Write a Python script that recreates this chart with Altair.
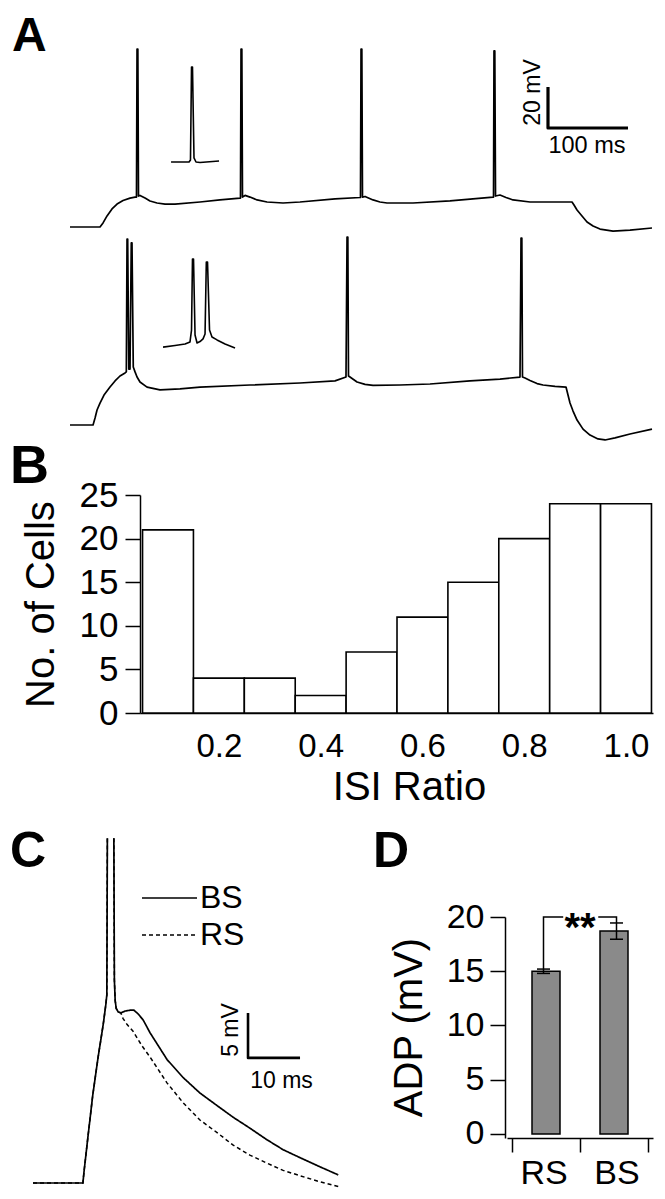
import altair as alt
import pandas as pd

FONT = "Liberation Sans"

# ---------------- Panel A : membrane potential traces (time in ms, Vm in mV)
rs_t = [0, 37.5, 41.3, 46.3, 52.5, 58.8, 66.3, 75, 81.3, 83.1, 83.8, 84.8, 85.6, 87.5, 93.8, 100,
        108.8, 118.8, 131.3, 162.5, 187.5, 212.5, 213.1, 213.8, 214.8, 215.6, 218.8, 225, 233.8,
        246.3, 266.3, 287.5, 331.3, 362.5, 363.1, 363.8, 364.8, 365.6, 368.8, 378.8, 387.5, 396.3,
        428.8, 475, 528.8, 529.4, 530, 531, 531.9, 537.5, 545, 553.8, 575, 627.5, 630, 633.8, 640,
        646.3, 653.8, 662.5, 678.8, 700, 727.5]
rs_v = [-70, -70, -68.0, -64.6, -61.2, -58.8, -57.1, -55.9, -55.4, -55.4, 16.8, 16.8, -54.9, -54.6,
        -55.9, -57.3, -58.3, -58.8, -58.8, -57.8, -56.8, -55.9, -55.9, 16.8, 16.8, -55.4, -54.6,
        -55.4, -56.8, -57.8, -58.3, -57.8, -56.3, -55.6, -55.6, 16.8, 16.8, -55.4, -55.1, -56.8,
        -57.8, -58.3, -58.3, -57.3, -55.4, -55.4, 15.9, 15.9, -54.9, -54.4, -55.6, -56.8, -57.8,
        -57.8, -59.3, -61.7, -64.6, -67.6, -69.5, -71.0, -72.0, -71.5, -70.5]
rs_inset_t = [126.3, 148.8, 150.6, 151.9, 153.1, 155.0, 157.5, 162.5, 186.3]
rs_inset_v = [-38.3, -38.3, -37.3, 8.0, 8.0, -36.3, -38.3, -38.5, -37.8]

bs_t = [0, 28.8, 31.3, 33.8, 37.5, 42.5, 50, 56.3, 62.5, 68.8, 70.4, 71.3, 72.1, 73.5, 75, 76.6,
        77.5, 79.1, 81.3, 83.8, 87.5, 96.3, 112.5, 137.5, 162.5, 225, 287.5, 331.3, 345, 346.3,
        347.3, 348.1, 350, 358.8, 368.8, 378.8, 412.5, 450, 500, 537.5, 562.5, 563.8, 564.8, 565.6,
        568.8, 575, 583.8, 591.3, 606.3, 620, 622.5, 625, 628.8, 633.8, 641.3, 650, 660, 668.8,
        681.3, 700, 727.5]
bs_v = [-70, -70, -66.6, -62.7, -59.3, -55.4, -51.5, -48.5, -46.1, -44.6, -44.1, 20.7, 20.7, -42.7,
        -42.7, 18.8, 18.8, -41.7, -44.1, -46.6, -49.0, -51.5, -52.9, -52.4, -51.5, -50.5, -49.5,
        -48.5, -46.6, 21.7, 21.7, -46.1, -46.6, -49.0, -50.2, -50.7, -50.5, -50.0, -48.5, -47.6,
        -46.6, 21.2, 21.2, -46.6, -47.1, -48.3, -49.8, -50.5, -51.2, -51.5, -55.4, -59.3, -63.2,
        -67.6, -72.0, -74.9, -76.8, -77.3, -76.3, -74.4, -72.0]
bs_inset_t = [116.3, 131.3, 143.8, 150, 151.9, 153.1, 154.4, 156.3, 158.8, 162.5, 166.3, 168.8,
              170.4, 171.9, 174.4, 177.5, 183.8, 193.8, 206.3]
bs_inset_v = [-32.0, -31.2, -30.5, -29.5, -23.7, 11.0, 11.0, -26.1, -30.0, -29.3, -28.0, -25.6,
              9.5, 9.5, -23.7, -27.1, -28.5, -30.5, -32.4]

scalebar_a_t = [597.5, 597.5, 697.5]      # 100 ms
scalebar_a_v = [-1.7, -21.7, -21.7]       # 20 mV

# ---------------- Panel B : ISI ratio histogram
isi_edges = [0.05, 0.15, 0.25, 0.35, 0.45, 0.55, 0.65, 0.75, 0.85, 0.95, 1.05]
isi_counts = [21, 4, 4, 2, 7, 11, 15, 20, 24, 24]
isi_ticks = [0.2, 0.4, 0.6, 0.8, 1.0]
cell_ticks = [0, 5, 10, 15, 20, 25]

# ---------------- Panel C : single spike with ADP
c_rise_t = [0, 9.6, 9.8, 10.6, 11.5, 12.5, 13.5, 14.0, 14.2, 14.3]
c_rise_v = [-70, -70, -68.8, -64.7, -60.2, -56.1, -52.4, -50.2, -49.1, -31.7]
c_fall_t = [15.55, 15.65, 15.8, 16.0, 16.4, 16.9]
c_fall_v = [-31.7, -47.4, -49.7, -50.6, -51.0, -51.1]
c_bs_tail_t = [17.7, 18.7, 19.4, 20.2, 21.2, 22.5, 25.8, 28.9, 32.1, 35.4, 38.5, 41.7, 45.0, 48.1,
               51.4, 54.8, 58.7]
c_bs_tail_v = [-50.9, -50.8, -50.8, -51.2, -51.9, -53.3, -56.3, -58.3, -60.0, -61.4, -62.7, -63.9,
               -65.2, -66.3, -67.2, -68.1, -69.1]
c_rs_tail_t = [17.3, 18.1, 19.2, 21.0, 22.5, 25.8, 28.9, 32.1, 35.4, 38.5, 41.7, 45.0, 48.1, 51.4,
               54.8, 58.7]
c_rs_tail_v = [-51.7, -52.4, -53.1, -54.8, -56.0, -58.9, -61.1, -63.0, -64.4, -65.8, -66.9, -67.8,
               -68.6, -69.2, -69.8, -70.4]
scalebar_c_t = [41.35, 41.35, 51.35]      # 10 ms
scalebar_c_v = [-51.1, -56.1, -56.1]      # 5 mV

# ---------------- Panel D : ADP amplitude
adp_cells = ["RS", "BS"]
adp_mean = [15.0, 18.7]
adp_sem = [0.2, 0.75]
adp_ticks = [0, 5, 10, 15, 20]
bracket_level = 20
stars = "**"

W, H = 649, 1183


# ================= helpers
def lin(domain, rng):
    return alt.Scale(domain=domain, range=rng, zero=False, nice=False)


def frame(t, v, **extra):
    df = pd.DataFrame({"t": t, "v": v})
    df["i"] = range(len(df))
    for k, val in extra.items():
        df[k] = val
    return df


def label(text, x, y, size, weight="normal", align="left", baseline="alphabetic", angle=0):
    return alt.Chart(pd.DataFrame({"s": [text]})).mark_text(
        font=FONT, fontSize=size, fontWeight=weight, align=align, baseline=baseline,
        angle=angle, color="black"
    ).encode(x=alt.value(x), y=alt.value(y), text="s:N")


A_X = lin([0, 700], [62, 622])
A_Y_TOP = lin([-70, 30], [219, 14])
A_Y_BOT = lin([-70, 30], [417, 212])
B_X = lin([0.045, 1.053], [132, 645])
B_Y = lin([0, 25], [705, 487])
C_X = lin([0, 60], [25, 337])
C_Y = lin([-70, -30], [1175, 815])
D_X = lin([0, 2], [499, 645])
D_Y = lin([-0.37, 20], [1130, 909])


def trace(df, xs, ys, width=1.7):
    return alt.Chart(df).mark_line(color="black", strokeWidth=width, strokeJoin="round").encode(
        x=alt.X("t:Q", scale=xs, axis=None),
        y=alt.Y("v:Q", scale=ys, axis=None),
        order="i:Q",
    )


layers = []

# ---- A
layers.append(trace(frame(rs_t, rs_v), A_X, A_Y_TOP))
layers.append(trace(frame(rs_inset_t, rs_inset_v), A_X, A_Y_TOP, 1.6))
layers.append(trace(frame(bs_t, bs_v), A_X, A_Y_BOT))
layers.append(trace(frame(bs_inset_t, bs_inset_v), A_X, A_Y_BOT, 1.6))
layers.append(trace(frame(scalebar_a_t, scalebar_a_v), A_X, A_Y_TOP, 3.2))
layers.append(label("20 mV", 525, 84.5, 23, align="center", baseline="middle", angle=270))
layers.append(label("100 ms", 579, 138, 23.5, align="center", baseline="middle"))

# ---- B
hist_df = pd.DataFrame({"lo": isi_edges[:-1], "hi": isi_edges[1:], "n": isi_counts})
layers.append(
    alt.Chart(hist_df).mark_rect(fill="white", stroke="black", strokeWidth=1.6).encode(
        x=alt.X("lo:Q", scale=B_X, axis=alt.Axis(
            orient="bottom", offset=705 - H, values=isi_ticks, format=".1f", ticks=False,
            tickSize=0, labelPadding=17, labelFontSize=33, labelFlush=False, labelOverlap=False,
            title="ISI Ratio", titleFontSize=40, titleX=401, titleY=74, titleAlign="center",
            titleBaseline="middle")),
        x2="hi:Q",
        y=alt.Y("n:Q", scale=B_Y, axis=alt.Axis(
            orient="left", offset=-132, values=cell_ticks, tickSize=15, labelPadding=7,
            labelFontSize=35, labelOverlap=False, title="No. of Cells", titleFontSize=40,
            titleAngle=270, titleX=-99, titleY=596, titleAlign="center", titleBaseline="middle")),
        y2=alt.datum(0),
    )
)

# ---- C
c_rows = []
for cell, tail_t, tail_v in (("RS", c_rs_tail_t, c_rs_tail_v), ("BS", c_bs_tail_t, c_bs_tail_v)):
    up = frame(c_rise_t, c_rise_v, cell=cell, seg=cell + "_up")
    down = frame(c_fall_t + tail_t, c_fall_v + tail_v, cell=cell, seg=cell + "_down")
    c_rows += [up, down]
c_df = pd.concat(c_rows, ignore_index=True)
dash_scale = alt.Scale(domain=["BS", "RS"], range=[[1, 0], [4, 3]])
for cell, w in (("RS", 1.5), ("BS", 1.7)):
    layers.append(
        alt.Chart(c_df[c_df.cell == cell]).mark_line(color="black", strokeWidth=w).encode(
            x=alt.X("t:Q", scale=C_X, axis=None),
            y=alt.Y("v:Q", scale=C_Y, axis=None),
            detail="seg:N",
            order="i:Q",
            strokeDash=alt.StrokeDash("cell:N", scale=dash_scale, legend=None),
        )
    )
layers.append(trace(frame(scalebar_c_t, scalebar_c_v), C_X, C_Y, 2.6))
layers.append(label("5 mV", 223, 1022, 23, align="center", baseline="middle", angle=270))
layers.append(label("10 ms", 273.5, 1073, 23, align="center", baseline="middle"))
# legend
for cell, yy, dash in (("BS", 890, [1, 0]), ("RS", 927, [4, 3])):
    layers.append(
        alt.Chart(pd.DataFrame({"cell": [cell]})).mark_rule(
            color="black", strokeWidth=1.5, strokeDash=dash
        ).encode(x=alt.value(134), x2=alt.value(189), y=alt.value(yy))
    )
    layers.append(label(cell, 192, yy, 32, baseline="middle"))

# ---- D
d_df = pd.DataFrame({"cell": adp_cells, "mean": adp_mean, "sem": adp_sem})
d_df["pos"] = [i + 0.5 for i in range(len(d_df))]
d_df["lo"] = d_df["mean"] - d_df["sem"]
d_df["hi"] = d_df["mean"] + d_df["sem"]
label_expr = "[" + ",".join("'%s'" % c for c in adp_cells) + "][floor(datum.value)]"

layers.append(
    alt.Chart(d_df).mark_bar(size=28, fill="#8a8a8a", stroke="black", strokeWidth=1.5).encode(
        x=alt.X("pos:Q", scale=D_X, axis=alt.Axis(
            orient="bottom", offset=1130 - H, values=[0, 1, 2], labels=False, tickSize=14,
            title=None)),
        y=alt.Y("mean:Q", scale=D_Y, axis=alt.Axis(
            orient="left", offset=-497, values=adp_ticks, tickSize=15, labelPadding=6,
            labelFontSize=34, labelOverlap=False, title="ADP (mV)", titleFontSize=40,
            titleAngle=270, titleX=-96, titleY=1019, titleAlign="center",
            titleBaseline="middle")),
        y2=alt.datum(0),
    )
)
layers.append(
    alt.Chart(d_df).mark_rule(color="black", strokeWidth=1.5).encode(
        x=alt.X("pos:Q", scale=D_X, axis=alt.Axis(
            orient="bottom", offset=1130 - H, values=[0.5, 1.5], labelExpr=label_expr,
            ticks=False, tickSize=0, domain=False, labelPadding=18, labelFontSize=34,
            labelFlush=False, labelOverlap=False, title=None)),
        y=alt.Y("lo:Q", scale=D_Y, axis=None),
        y2="hi:Q",
    )
)
layers.append(
    alt.Chart(d_df).transform_fold(["lo", "hi"], as_=["end", "val"]).mark_point(
        shape="stroke", size=169, strokeWidth=1.5, color="black", opacity=1, filled=False
    ).encode(
        x=alt.X("pos:Q", scale=D_X, axis=None),
        y=alt.Y("val:Q", scale=D_Y, axis=None),
    )
)
rs_top = adp_mean[0] + adp_sem[0]
bs_top = adp_mean[1] + adp_sem[1]
bracket = pd.DataFrame({
    "t": [0.5, 0.5, 0.77, 1.25, 1.5, 1.5],
    "v": [rs_top, bracket_level, bracket_level, bracket_level, bracket_level, bs_top],
    "seg": ["L", "L", "L", "R", "R", "R"],
})
bracket["i"] = range(len(bracket))
layers.append(
    alt.Chart(bracket).mark_line(color="black", strokeWidth=1.5).encode(
        x=alt.X("t:Q", scale=D_X, axis=None),
        y=alt.Y("v:Q", scale=D_Y, axis=None),
        detail="seg:N",
        order="i:Q",
    )
)
layers.append(
    alt.Chart(pd.DataFrame({"t": [1.0], "v": [bracket_level], "s": [stars]})).mark_text(
        font=FONT, fontSize=40, fontWeight="bold", align="center", baseline="alphabetic",
        dy=24, color="black"
    ).encode(
        x=alt.X("t:Q", scale=D_X, axis=None),
        y=alt.Y("v:Q", scale=D_Y, axis=None),
        text="s:N",
    )
)

# ---- panel letters
layers.append(label("A", 4, 5, 48, weight="bold", baseline="top"))
layers.append(label("B", 2, 475, 54, weight="bold"))
layers.append(label("C", 2, 859, 50, weight="bold"))
layers.append(label("D", 365, 859, 50, weight="bold"))

chart = (
    alt.layer(*layers)
    .resolve_scale(x="independent", y="independent")
    .properties(width=W, height=H, padding=0, autosize=alt.AutoSizeParams(type="none"))
    .configure_view(strokeWidth=0)
    .configure_axis(
        domainColor="black", tickColor="black", labelColor="black", titleColor="black",
        domainWidth=1.5, tickWidth=1.5, grid=False, labelFont=FONT, titleFont=FONT,
        titleFontWeight="normal",
    )
)

chart.save("out.html", embed_options={"renderer": "svg", "actions": False})
